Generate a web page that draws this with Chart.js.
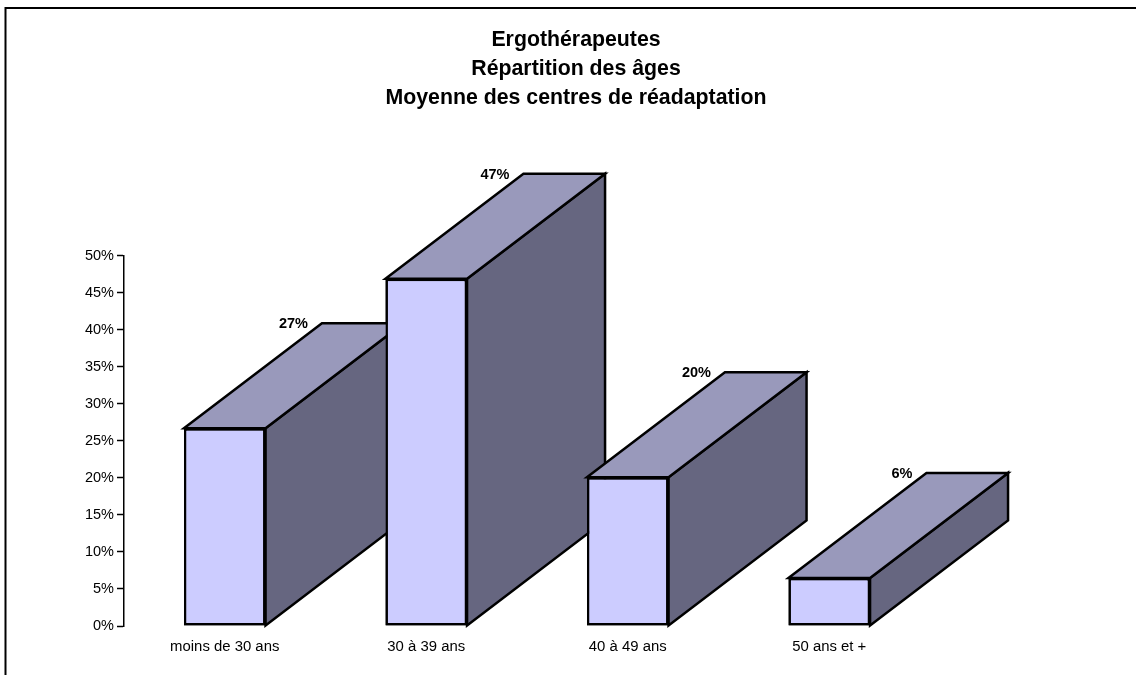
<!DOCTYPE html>
<html>
<head>
<meta charset="utf-8">
<title>Ergothérapeutes</title>
<script src="https://cdn.jsdelivr.net/npm/chart.js@4/dist/chart.umd.min.js"></script>
<style>
    html, body { margin: 0; padding: 0; background: #fff; }
    #box { width: 1136px; height: 675px; }
</style>
</head>
<body>
<div id="box"><canvas id="chart"></canvas></div>
<script>
var titleLines = ["Ergothérapeutes", "Répartition des âges", "Moyenne des centres de réadaptation"];
var ageLabels = ["moins de 30 ans", "30 à 39 ans", "40 à 49 ans", "50 ans et +"];
var ageValues = [26.7, 46.9, 20.1, 6.5];
var valueLabels = ["27%", "47%", "20%", "6%"];

var fontName = "'Liberation Sans', Arial, sans-serif";
var depthX = 138;
var depthY = 105;

//Draws the top and side faces of each bar, then its front again so the next bar hides the previous one
var bars3d = {
    id: "bars3d",
    afterDatasetsDraw: function(chart){
        var ctx = chart.ctx;
        var bars = chart.getDatasetMeta(0).data;

        ctx.save();
        ctx.lineWidth = 2.5;
        ctx.strokeStyle = "#000";

        bars.forEach((bar, i) => {
            var left = bar.x - bar.width / 2;
            var right = bar.x + bar.width / 2;

            // side
            ctx.beginPath();
            ctx.moveTo(right, bar.y);
            ctx.lineTo(right + depthX, bar.y - depthY);
            ctx.lineTo(right + depthX, bar.base - depthY);
            ctx.lineTo(right, bar.base);
            ctx.closePath();
            ctx.fillStyle = "#666680";
            ctx.fill();
            ctx.stroke();

            // top
            ctx.beginPath();
            ctx.moveTo(left, bar.y);
            ctx.lineTo(left + depthX, bar.y - depthY);
            ctx.lineTo(right + depthX, bar.y - depthY);
            ctx.lineTo(right, bar.y);
            ctx.closePath();
            ctx.fillStyle = "#9999BB";
            ctx.fill();
            ctx.stroke();

            bar.draw(ctx);

            ctx.fillStyle = "#000";
            ctx.font = "bold 14.5px " + fontName;
            ctx.textAlign = "right";
            ctx.textBaseline = "middle";
            ctx.fillText(valueLabels[i], left + depthX - 14, bar.y - depthY + 1);
        });
        ctx.restore();
    }
};

//Frame of the original picture, only top and left are visible
var frame = {
    id: "frame",
    beforeDraw: function(chart){
        var ctx = chart.ctx;
        ctx.save();
        ctx.strokeStyle = "#000";
        ctx.lineWidth = 2;
        ctx.beginPath();
        ctx.moveTo(5.5, 675);
        ctx.lineTo(5.5, 8);
        ctx.lineTo(1136, 8);
        ctx.stroke();
        ctx.restore();
    }
};

var ctx1 = document.getElementById("chart");

var chart = new Chart(ctx1, {
    type: "bar",
    data: {
        labels: ageLabels,
        datasets: [{
            data: ageValues,
            backgroundColor: "#CCCCFF",
            borderColor: "#000",
            borderWidth: 2.5,
            borderSkipped: false,
            barPercentage: 0.405,
            categoryPercentage: 1
        }]
    },
    options: {
        responsive: true,
        maintainAspectRatio: false,
        animation: false,
        layout: { padding: { left: 16, right: 0, top: 0, bottom: 0 } },
        plugins: {
            legend: { display: false },
            tooltip: { enabled: false },
            title: {
                display: true,
                text: titleLines,
                color: "#000",
                font: { family: fontName, size: 21.3, weight: "bold", lineHeight: 1.36 },
                padding: { top: 26, bottom: 143 }
            }
        },
        scales: {
            x: {
                grid: { display: false },
                border: { display: false },
                ticks: { color: "#000", font: { family: fontName, size: 14.9 }, padding: 4, maxRotation: 0 },
                afterFit: function(scale){ scale.height = 49; }
            },
            y: {
                min: 0,
                max: 50,
                grid: { drawOnChartArea: false, tickLength: 7, tickColor: "#000", tickWidth: 1.5 },
                border: { color: "#000", width: 1.5 },
                ticks: {
                    stepSize: 5,
                    color: "#000",
                    padding: 3,
                    font: { family: fontName, size: 14.5 },
                    callback: function(value){ return value + "%"; }
                },
                afterFit: function(scale){ scale.width = 108; }
            },
            // empty axis, keeps the plot area away from the right side
            blank: {
                position: "right",
                grid: { display: false },
                border: { display: false },
                ticks: { display: false },
                afterFit: function(scale){ scale.width = 206; }
            }
        }
    },
    plugins: [frame, bars3d]
});
</script>
</body>
</html>
